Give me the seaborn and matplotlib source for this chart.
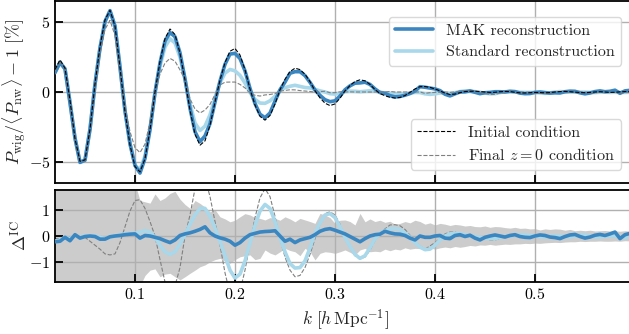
import numpy as np
import matplotlib
matplotlib.use("Agg")
import matplotlib.pyplot as plt
import seaborn as sns
from matplotlib.lines import Line2D

# k bins [h/Mpc]
k = [0.020, 0.025, 0.030, 0.035, 0.040, 0.045, 0.050, 0.055, 0.060, 0.065,
     0.070, 0.075, 0.080, 0.085, 0.090, 0.095, 0.100, 0.105, 0.110, 0.115,
     0.120, 0.125, 0.130, 0.135, 0.140, 0.145, 0.150, 0.155, 0.160, 0.165,
     0.170, 0.175, 0.180, 0.185, 0.190, 0.195, 0.200, 0.205, 0.210, 0.215,
     0.220, 0.225, 0.230, 0.235, 0.240, 0.245, 0.250, 0.255, 0.260, 0.265,
     0.270, 0.275, 0.280, 0.285, 0.290, 0.295, 0.300, 0.305, 0.310, 0.315,
     0.320, 0.325, 0.330, 0.335, 0.340, 0.345, 0.350, 0.355, 0.360, 0.365,
     0.370, 0.375, 0.380, 0.385, 0.390, 0.395, 0.400, 0.405, 0.410, 0.415,
     0.420, 0.425, 0.430, 0.435, 0.440, 0.445, 0.450, 0.455, 0.460, 0.465,
     0.470, 0.475, 0.480, 0.485, 0.490, 0.495, 0.500, 0.505, 0.510, 0.515,
     0.520, 0.525, 0.530, 0.535, 0.540, 0.545, 0.550, 0.555, 0.560, 0.565,
     0.570, 0.575, 0.580, 0.585, 0.590, 0.595]

# top panel: P_wig/<P_nw> - 1 [%]
initial = [1.60, 2.30, 1.70, -0.60, -3.34, -4.95, -4.85, -2.66, 0.57, 3.25,
           5.15, 5.84, 4.71, 1.75, -1.40, -3.78, -5.33, -5.71, -4.77, -2.70,
           0.00, 2.18, 3.82, 4.50, 4.10, 2.78, 0.85, -1.29, -3.02, -3.80,
           -3.49, -2.38, -0.73, 0.85, 2.10, 2.91, 3.11, 2.64, 1.59, 0.21,
           -0.93, -1.74, -2.01, -1.68, -0.86, 0.16, 0.91, 1.46, 1.70, 1.60,
           1.27, 0.74, 0.09, -0.42, -0.80, -0.97, -0.85, -0.44, 0.08, 0.46,
           0.75, 0.87, 0.80, 0.54, 0.17, -0.11, -0.27, -0.38, -0.43, -0.39,
           -0.25, -0.03, 0.22, 0.38, 0.39, 0.33, 0.22, 0.08, -0.08, -0.18,
           -0.15, -0.05, 0.03, 0.05, 0.06, 0.03, 0.00, -0.03, -0.02, 0.02,
           0.04, 0.03, -0.02, -0.06, -0.07, -0.05, -0.03, -0.04, -0.06, -0.04,
           0.00, 0.03, 0.04, 0.02, -0.01, -0.04, -0.05, -0.03, 0.00, 0.02,
           0.00, -0.03, -0.02, 0.01, 0.03, 0.02]
final = [1.50, 2.20, 1.62, -0.65, -3.39, -4.98, -4.90, -2.86, 0.22, 2.75,
         4.47, 5.12, 4.03, 1.50, -1.05, -2.83, -3.98, -4.33, -3.72, -2.15,
         0.00, 1.28, 2.07, 2.40, 2.20, 1.58, 0.85, -0.49, -1.22, -1.50,
         -1.29, -0.88, -0.18, 0.50, 0.70, 0.71, 0.71, 0.54, 0.29, -0.09,
         -0.23, -0.29, -0.21, -0.18, -0.11, 0.06, 0.11, 0.16, 0.15, 0.10,
         0.07, 0.04, -0.01, 0.03, 0.05, -0.05, -0.05, 0.01, 0.00, 0.01,
         0.00, 0.00, 0.00, 0.00, 0.00, 0.00, 0.00, 0.04, 0.00, 0.00,
         0.00, 0.00, 0.00, 0.00, -0.10, -0.05, -0.03, -0.02, 0.00, -0.03,
         0.00, 0.03, 0.05, 0.05, 0.01, -0.02, -0.10, -0.18, -0.17, -0.08,
         -0.01, 0.03, -0.02, -0.01, -0.02, 0.00, -0.03, -0.09, -0.11, -0.04,
         0.02, 0.03, -0.01, -0.03, -0.01, 0.01, 0.00, -0.03, -0.05, -0.03,
         0.00, -0.01, -0.02, -0.04, -0.05, -0.03]
mak = [1.38, 2.10, 1.65, -0.78, -3.29, -5.03, -4.87, -2.66, 0.55, 3.13,
       5.03, 5.81, 4.71, 1.77, -1.35, -3.71, -5.25, -5.79, -4.75, -2.70,
       -0.05, 2.08, 3.64, 4.25, 3.95, 2.80, 0.93, -1.17, -2.84, -3.55,
       -3.14, -2.26, -0.73, 0.78, 1.98, 2.71, 2.76, 2.39, 1.51, 0.26,
       -0.83, -1.59, -1.84, -1.50, -0.66, 0.16, 0.71, 1.34, 1.45, 1.45,
       1.17, 0.69, 0.14, -0.24, -0.55, -0.69, -0.63, -0.29, 0.16, 0.44,
       0.63, 0.65, 0.70, 0.54, 0.22, -0.04, -0.09, -0.26, -0.35, -0.32,
       -0.23, -0.11, 0.07, 0.38, 0.34, 0.28, 0.22, 0.10, -0.16, -0.28,
       -0.13, 0.00, 0.01, 0.08, -0.02, -0.12, -0.05, -0.03, 0.02, 0.02,
       0.00, 0.05, 0.03, -0.08, -0.12, -0.11, -0.03, 0.00, -0.04, -0.08,
       -0.06, -0.07, 0.02, 0.06, 0.05, -0.06, -0.13, -0.07, 0.03, 0.08,
       0.02, 0.05, 0.13, -0.09, 0.08, 0.12]
standard = [1.40, 2.15, 1.65, -0.70, -3.34, -5.00, -4.85, -2.66, 0.57, 3.20,
            5.05, 5.79, 4.71, 1.80, -1.32, -3.68, -5.23, -5.56, -4.57, -2.55,
            -0.05, 1.83, 3.22, 3.80, 3.50, 2.48, 0.90, -0.84, -2.22, -2.75,
            -2.44, -1.63, -0.43, 0.65, 1.35, 1.61, 1.51, 1.19, 0.64, -0.04,
            -0.53, -0.79, -0.81, -0.63, -0.31, 0.11, 0.31, 0.41, 0.48, 0.40,
            0.32, 0.29, 0.19, 0.08, 0.00, -0.12, -0.15, -0.09, 0.03, 0.06,
            0.05, 0.02, 0.05, 0.09, 0.07, -0.01, -0.07, -0.10, -0.15, -0.14,
            -0.13, -0.08, -0.03, -0.04, -0.13, -0.17, -0.13, -0.07, -0.08, -0.10,
            -0.05, 0.03, 0.08, 0.05, 0.03, -0.02, -0.08, -0.13, -0.12, -0.04,
            0.02, 0.03, 0.00, -0.02, -0.03, -0.03, -0.03, -0.07, -0.10, -0.06,
            0.00, 0.03, 0.01, -0.02, -0.01, -0.01, -0.01, -0.03, -0.04, -0.02,
            -0.01, -0.03, -0.02, -0.03, -0.03, -0.02]

# bottom panel: Delta^IC
d_mak = [-0.22, -0.20, -0.05, -0.18, 0.05, -0.08, -0.02, 0.00, -0.02, -0.12,
         -0.12, -0.03, 0.00, 0.02, 0.05, 0.07, 0.08, -0.08, 0.02, 0.00,
         -0.05, -0.10, -0.18, -0.25, -0.15, 0.02, 0.08, 0.12, 0.18, 0.25,
         0.35, 0.12, 0.00, -0.07, -0.12, -0.20, -0.35, -0.25, -0.08, 0.05,
         0.10, 0.15, 0.17, 0.18, 0.20, 0.00, -0.20, -0.12, -0.25, -0.15,
         -0.10, -0.05, 0.05, 0.18, 0.25, 0.28, 0.22, 0.15, 0.08, -0.02,
         -0.12, -0.22, -0.10, 0.00, 0.05, 0.07, 0.18, 0.12, 0.08, 0.07,
         0.02, -0.08, -0.15, 0.00, -0.05, -0.05, 0.00, 0.02, -0.08, -0.10,
         0.02, 0.05, -0.02, 0.03, -0.08, -0.15, -0.05, 0.00, 0.04, 0.00,
         -0.04, 0.02, 0.05, -0.02, -0.05, -0.06, 0.00, 0.04, 0.02, -0.04,
         -0.06, -0.10, -0.02, 0.04, 0.06, -0.02, -0.08, -0.04, 0.03, 0.06,
         0.02, 0.08, 0.15, -0.10, 0.05, 0.10]
d_standard = [-0.20, -0.15, -0.05, -0.10, 0.00, -0.05, 0.00, 0.00, 0.00, -0.05,
              -0.10, -0.05, 0.00, 0.05, 0.08, 0.10, 0.10, 0.15, 0.20, 0.15,
              -0.05, -0.35, -0.60, -0.70, -0.60, -0.30, 0.05, 0.45, 0.80, 1.05,
              1.05, 0.75, 0.30, -0.20, -0.75, -1.30, -1.60, -1.45, -0.95, -0.25,
              0.40, 0.95, 1.20, 1.05, 0.55, -0.05, -0.60, -1.05, -1.22, -1.20,
              -0.95, -0.45, 0.10, 0.50, 0.80, 0.85, 0.70, 0.35, -0.05, -0.40,
              -0.70, -0.85, -0.75, -0.45, -0.10, 0.10, 0.20, 0.28, 0.28, 0.25,
              0.12, -0.05, -0.25, -0.42, -0.52, -0.50, -0.35, -0.15, 0.00, 0.08,
              0.10, 0.08, 0.05, 0.00, -0.03, -0.05, -0.08, -0.10, -0.10, -0.06,
              -0.02, 0.00, 0.02, 0.04, 0.04, 0.02, 0.00, -0.03, -0.04, -0.02,
              0.00, 0.00, -0.03, -0.04, 0.00, 0.03, 0.04, 0.00, -0.04, -0.04,
              -0.01, 0.00, 0.00, -0.04, -0.06, -0.04]
d_final = [-0.10, -0.10, -0.08, -0.05, -0.05, -0.03, -0.05, -0.20, -0.35, -0.50,
           -0.68, -0.72, -0.68, -0.25, 0.35, 0.95, 1.35, 1.38, 1.05, 0.55,
           0.00, -0.90, -1.75, -2.10, -1.90, -1.20, 0.00, 0.80, 1.80, 2.30,
           2.20, 1.50, 0.55, -0.35, -1.40, -2.20, -2.40, -2.10, -1.30, -0.30,
           0.70, 1.45, 1.80, 1.50, 0.75, -0.10, -0.80, -1.30, -1.55, -1.50,
           -1.20, -0.70, -0.10, 0.45, 0.85, 0.92, 0.80, 0.45, -0.08, -0.45,
           -0.75, -0.87, -0.80, -0.54, -0.17, 0.11, 0.27, 0.42, 0.43, 0.39,
           0.25, 0.03, -0.22, -0.38, -0.50, -0.38, -0.25, -0.10, 0.08, 0.15,
           0.15, 0.08, 0.02, 0.00, -0.05, -0.05, -0.10, -0.15, -0.15, -0.10,
           -0.05, 0.00, 0.00, 0.05, 0.05, 0.05, 0.00, -0.05, -0.05, 0.00,
           0.02, 0.00, -0.05, -0.05, 0.00, 0.05, 0.05, 0.00, -0.05, -0.05,
           0.00, 0.02, 0.00, -0.05, -0.08, -0.05]
band_lo = [-3.0, -3.0, -3.0, -3.0, -3.0, -3.0, -3.0, -3.0, -3.0, -3.0,
           -3.0, -3.0, -3.0, -3.0, -3.0, -2.8, -2.2, -1.9, -1.5, -1.3,
           -1.25, -1.55, -1.45, -1.42, -1.55, -1.67, -1.55, -1.42, -1.30, -1.17,
           -1.10, -0.98, -0.90, -0.85, -0.95, -1.04, -0.90, -0.79, -0.75, -0.72,
           -0.90, -0.85, -0.53, -0.65, -0.72, -0.60, -0.47, -0.55, -0.60, -0.75,
           -0.47, -0.60, -0.91, -0.66, -0.60, -0.62, -0.66, -0.60, -0.53, -0.62,
           -0.72, -0.53, -0.47, -0.60, -0.58, -0.60, -0.50, -0.56, -0.50, -0.53,
           -0.45, -0.50, -0.47, -0.48, -0.50, -0.45, -0.50, -0.45, -0.42, -0.45,
           -0.40, -0.43, -0.40, -0.36, -0.38, -0.34, -0.35, -0.32, -0.35, -0.33,
           -0.31, -0.32, -0.30, -0.30, -0.28, -0.29, -0.27, -0.28, -0.26, -0.25,
           -0.24, -0.25, -0.23, -0.22, -0.22, -0.20, -0.21, -0.20, -0.20, -0.19,
           -0.20, -0.20, -0.19, -0.20, -0.18, -0.19]
band_hi = [3.0, 3.0, 3.0, 3.0, 3.0, 3.0, 3.0, 3.0, 3.0, 3.0,
           3.0, 3.0, 3.0, 3.0, 3.0, 2.6, 2.0, 1.35, 1.30, 1.25,
           1.60, 1.35, 1.45, 1.62, 1.70, 1.40, 1.20, 1.05, 1.35, 1.24,
           1.10, 0.92, 1.00, 0.73, 0.65, 0.54, 0.60, 0.73, 0.85, 0.80,
           0.70, 0.67, 0.61, 0.70, 0.67, 0.60, 0.73, 0.65, 0.54, 0.67,
           0.61, 0.55, 0.48, 0.86, 0.80, 0.70, 0.48, 0.60, 0.61, 0.55,
           0.42, 0.86, 0.54, 0.65, 0.55, 0.60, 0.52, 0.56, 0.45, 0.48,
           0.55, 0.50, 0.60, 0.55, 0.45, 0.50, 0.42, 0.48, 0.45, 0.40,
           0.44, 0.42, 0.38, 0.40, 0.36, 0.35, 0.38, 0.33, 0.36, 0.35,
           0.32, 0.30, 0.33, 0.29, 0.30, 0.27, 0.28, 0.23, 0.27, 0.25,
           0.27, 0.26, 0.22, 0.25, 0.20, 0.22, 0.20, 0.22, 0.19, 0.20,
           0.21, 0.19, 0.20, 0.18, 0.20, 0.19]

MAK_COLOR = "#3a86c1"
STD_COLOR = "#a8d8ea"

sns.set_theme(style="whitegrid")
plt.rcParams["font.family"] = "serif"
plt.rcParams["font.serif"] = ["cmr10", "DejaVu Serif"]
plt.rcParams["mathtext.fontset"] = "cm"
plt.rcParams["axes.formatter.use_mathtext"] = True
plt.rcParams["axes.unicode_minus"] = True

fig = plt.figure(figsize=(6.29, 3.34), dpi=100)
ax1 = fig.add_axes([55 / 629, 1 - 183 / 334, 580 / 629, 182 / 334])
ax2 = fig.add_axes([55 / 629, 1 - 282 / 334, 580 / 629, 92 / 334])

# top panel
sns.lineplot(x=k, y=standard, ax=ax1, color=STD_COLOR, lw=2.6, zorder=2)
sns.lineplot(x=k, y=mak, ax=ax1, color=MAK_COLOR, lw=2.6, zorder=3)
sns.lineplot(x=k, y=final, ax=ax1, color="#808080", lw=0.8, ls="--", zorder=4)
sns.lineplot(x=k, y=initial, ax=ax1, color="black", lw=0.8, ls="--", zorder=5)

# bottom panel
ax2.fill_between(k, band_lo, band_hi, color="#cccccc", lw=0, zorder=0.2)
sns.lineplot(x=k, y=d_final, ax=ax2, color="#808080", lw=0.8, ls="--", zorder=2)
sns.lineplot(x=k, y=d_standard, ax=ax2, color=STD_COLOR, lw=2.6, zorder=3)
sns.lineplot(x=k, y=d_mak, ax=ax2, color=MAK_COLOR, lw=2.6, zorder=4)

for ax in (ax1, ax2):
    ax.set_xlim(0.02, 0.6)
    ax.set_xticks([0.1, 0.2, 0.3, 0.4, 0.5])
    ax.grid(True, color="#b0b0b0", lw=1.0)
    ax.tick_params(direction="in", length=6, width=1.3, colors="black",
                   labelsize=11.5, bottom=True, left=True, top=False, right=False)
    for sp in ax.spines.values():
        sp.set_color("black")
        sp.set_linewidth(1.3)
    ax.set_facecolor("white")

ax1.set_ylim(-6.5, 6.5)
ax1.set_yticks([-5, 0, 5])
ax1.tick_params(labelbottom=False)
ax1.set_ylabel(r"$P_{\rm wig}/\langle P_{\rm nw}\rangle - 1\ [\%]$", fontsize=13)

ax2.set_ylim(-1.75, 1.75)
ax2.set_yticks([-1, 0, 1])
ax2.set_ylabel(r"$\Delta^{\rm IC}$", fontsize=13)
ax2.set_xlabel(r"$k\ [h\,{\rm Mpc}^{-1}]$", fontsize=12.5)
ax1.yaxis.set_label_coords(-0.045, 0.5)
ax2.yaxis.set_label_coords(-0.045, 0.5)

h1 = [Line2D([], [], color=MAK_COLOR, lw=2.6),
      Line2D([], [], color=STD_COLOR, lw=2.6)]
leg1 = ax1.legend(h1, ["MAK reconstruction", "Standard reconstruction"],
                  loc="upper right", bbox_to_anchor=(0.99, 0.955), fontsize=11.5,
                  handlelength=2.4, frameon=True, borderpad=0.4, labelspacing=0.45)
leg1.get_frame().set_edgecolor("#d0d0d0")
ax1.add_artist(leg1)
h2 = [Line2D([], [], color="black", lw=0.8, ls="--"),
      Line2D([], [], color="#808080", lw=0.8, ls="--")]
leg2 = ax1.legend(h2, ["Initial condition", r"Final $z=0$ condition"],
                  loc="lower right", bbox_to_anchor=(0.99, 0.03), fontsize=11.5,
                  handlelength=2.4, frameon=True, borderpad=0.4, labelspacing=0.45)
leg2.get_frame().set_edgecolor("#d0d0d0")

fig.savefig("out.png", dpi=100)
